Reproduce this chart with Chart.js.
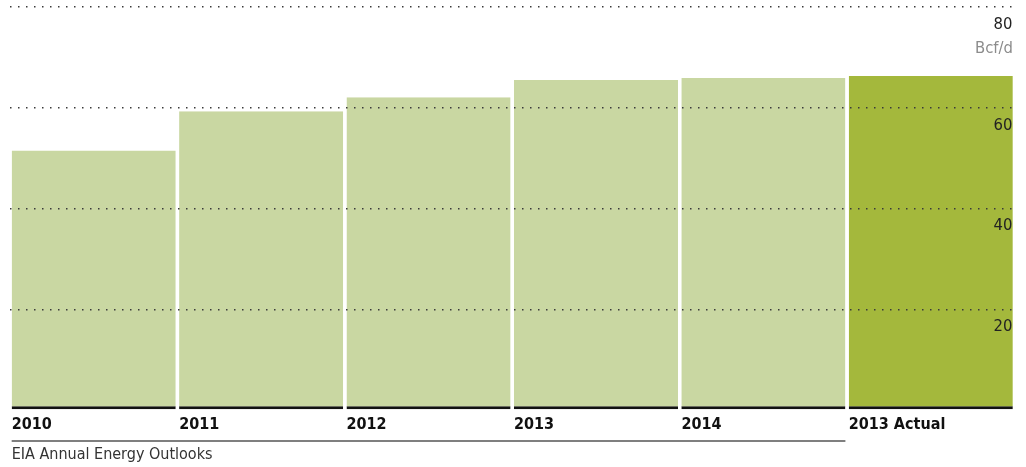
<!DOCTYPE html>
<html>
<head>
<meta charset="utf-8">
<script src="https://cdn.jsdelivr.net/npm/chart.js@4/dist/chart.umd.min.js"></script>
<style>
  html, body { margin: 0; padding: 0; background: #fff; }
  #wrap { width: 1026px; height: 467px; position: relative; }
</style>
</head>
<body>
<div id="wrap"><canvas id="c"></canvas></div>
<script>
const categories = ['2010', '2011', '2012', '2013', '2014', '2013 Actual'];
const values = [51.5, 59.3, 62.1, 65.5, 65.9, 66.3];
const yTicks = [20, 40, 60, 80];
const unitLabel = 'Bcf/d';
const groupLabel = 'EIA Annual Energy Outlooks';
const groupRange = [0, 4];

const FONT = "'Liberation Sans Narrow', 'DejaVu Sans Condensed', 'Arial Narrow', sans-serif";
const LIGHT = 'rgb(201,215,162)';
const DARK = 'rgb(164,184,60)';

const extras = {
  id: 'extras',
  afterDraw(chart) {
    const ctx = chart.ctx;
    const y = chart.scales.y;
    const meta = chart.getDatasetMeta(0);
    ctx.save();
    ctx.font = '16.5px ' + FONT;
    ctx.fillStyle = '#8c8c8c';
    ctx.textAlign = 'right';
    ctx.textBaseline = 'middle';
    ctx.fillText(unitLabel, chart.chartArea.right - 1.5, y.getPixelForValue(yTicks[yTicks.length - 1]) + 42);
    const a = meta.data[groupRange[0]], b = meta.data[groupRange[1]];
    const x0 = a.x - a.width / 2, x1 = b.x + b.width / 2;
    const ly = chart.chartArea.bottom + 31;
    ctx.strokeStyle = '#555';
    ctx.lineWidth = 1.5;
    ctx.beginPath();
    ctx.moveTo(x0, ly);
    ctx.lineTo(x1, ly);
    ctx.stroke();
    ctx.fillStyle = '#333';
    ctx.textAlign = 'left';
    ctx.textBaseline = 'middle';
    ctx.font = '16px ' + FONT;
    ctx.fillText(groupLabel, x0, ly + 14);
    ctx.restore();
  }
};

new Chart(document.getElementById('c'), {
  type: 'bar',
  data: {
    labels: categories,
    datasets: [{
      data: values,
      backgroundColor: (c) => c.dataIndex === categories.length - 1 ? DARK : LIGHT,
      borderColor: '#111',
      borderWidth: { top: 0, left: 0, right: 0, bottom: 3 },
      borderSkipped: false,
      categoryPercentage: 1,
      barPercentage: 0.98
    }]
  },
  options: {
    responsive: true,
    maintainAspectRatio: false,
    animation: false,
    layout: { padding: { left: 10, right: 11.5, top: 7, bottom: 33 } },
    plugins: { legend: { display: false }, tooltip: { enabled: false } },
    scales: {
      x: {
        clip: false,
        grid: { display: false },
        border: { display: false },
        afterFit: (s) => { s.paddingLeft = 0; s.paddingRight = 0; s.height = 24; },
        ticks: {
          align: 'start',
          labelOffset: -82,
          padding: -3,
          color: '#111',
          font: { family: FONT, size: 16, weight: 'bold' },
          maxRotation: 0,
          autoSkip: false
        }
      },
      y: {
        clip: false,
        position: 'right',
        min: 0,
        max: 80,
        z: 1,
        afterFit: (s) => { s.paddingTop = 0; s.paddingBottom = 0; s.width = 0; },
        border: { display: false, dash: [1.5, 6.5] },
        grid: {
          z: 1,
          drawTicks: false,
          color: (c) => c.tick && c.tick.value === 0 ? 'rgba(0,0,0,0)' : '#3a3a3a',
          lineWidth: 1.5
        },
        afterBuildTicks: (s) => { s.ticks = [0].concat(yTicks).map(v => ({ value: v })); },
        ticks: {
          z: 2,
          mirror: true,
          padding: -2,
          labelOffset: 17.5,
          color: '#222',
          font: { family: FONT, size: 16.5 },
          callback: (v) => v === 0 ? '' : String(v)
        }
      }
    }
  },
  plugins: [extras]
});
</script>
</body>
</html>
